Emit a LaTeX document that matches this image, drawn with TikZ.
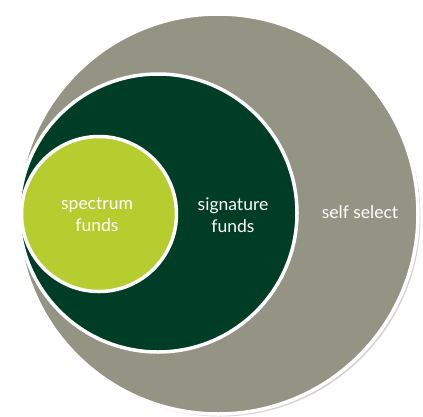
\documentclass[tikz,border=0pt]{standalone}
\usepackage{fontspec}
\setmainfont{Lato}
\usetikzlibrary{positioning,shadows}
\definecolor{selfgray}{RGB}{148,148,132}
\definecolor{sigreen}{RGB}{0,61,38}
\definecolor{specgreen}{RGB}{181,205,47}
\tikzstyle{ring} = [circle, draw=white, line width=3.5pt, inner sep=0pt]
\tikzstyle{lbl} = [white, font=\fontsize{17.5}{22}\selectfont, align=center]
\begin{document}
\begin{tikzpicture}[x=1pt,y=-1pt]
\useasboundingbox (0,0) rectangle (423,416);
\node [ring, fill=selfgray, minimum size=400pt,
  drop shadow={opacity=0.35, shadow xshift=2.5pt, shadow yshift=-2.5pt}] (selfsel) at (218,214) {};
\node [ring, fill=sigreen, minimum size=278pt] (signature) at (158,213) {};
\node [ring, fill=specgreen, minimum size=155pt] (spectrum) at (99,214) {};
\node [lbl] (spectxt) at (97,215) {spectrum\\funds};
\node [lbl] (sigtxt) at (233,215) {signature\\funds};
\node [lbl] (selftxt) at (360,212) {self select};
\end{tikzpicture}
\end{document}
